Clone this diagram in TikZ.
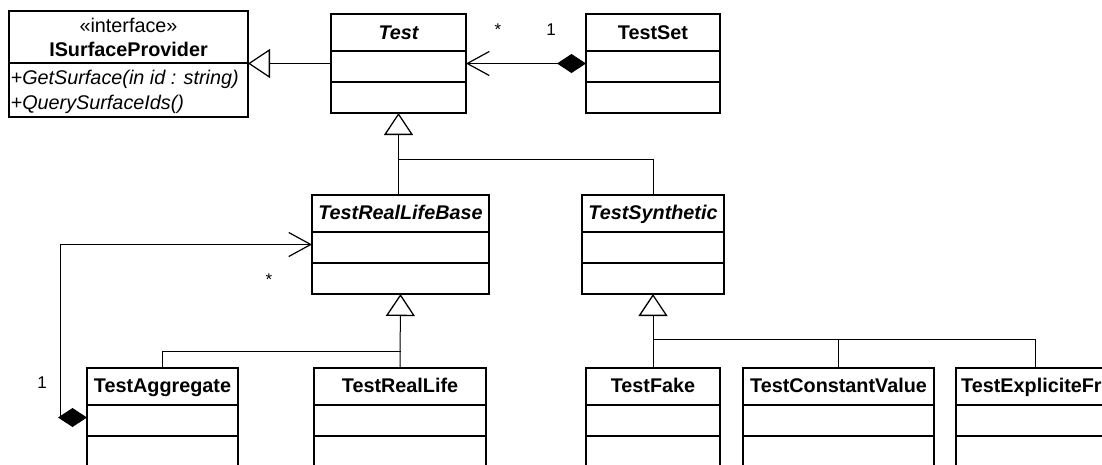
\documentclass[tikz,border=0pt]{standalone}
\usepackage{fontspec}
\setmainfont{Liberation Sans}
\usetikzlibrary{arrows.meta,calc}
\tikzset{
  clsbox/.style={draw, line width=1.6pt, minimum height=99pt, inner sep=0pt, outer sep=0pt},
  sepline/.style={line width=1.6pt},
  conn/.style={line width=1pt},
  inh/.style={conn, -{Triangle[open, length=22pt, width=29pt, line width=1.3pt]}},
  assoc/.style={conn, -{Straight Barb[length=22pt, width=24pt, line width=1.2pt]}},
  ttl/.style={font=\fontsize{19.8}{23}\selectfont\bfseries},
  attl/.style={font=\fontsize{19.8}{23}\selectfont\bfseries\itshape},
  mth/.style={font=\fontsize{19.8}{23}\selectfont\itshape, inner sep=0pt},
  reg/.style={font=\fontsize{19.8}{23}\selectfont, inner sep=0pt},
  mult/.style={font=\fontsize{17}{20}\selectfont, inner sep=0pt, anchor=base},
}
\newcommand\umlclass[5]{%
  \node[clsbox, minimum width={(#3-#2)*1pt}, anchor=north west] (#1) at (#2,#4) {};
  \draw[sepline] ($(#1.north west)+(0,37)$) -- ($(#1.north east)+(0,37)$);
  \draw[sepline] ($(#1.north west)+(0,68)$) -- ($(#1.north east)+(0,68)$);
  #5
}
\begin{document}
\begin{tikzpicture}[x=1pt,y=-1pt]
\path[use as bounding box] (0,0) rectangle (1102,464);
\clip (0,0) rectangle (1102,464);
\fill[white] (0,0) rectangle (1102,464);

% interface
\node[clsbox, minimum width=239pt, minimum height=106pt, anchor=north west] (isp) at (9,11) {};
\draw[sepline] ($(isp.north west)+(0,52)$) -- ($(isp.north east)+(0,52)$);
\node[reg, anchor=base] (isp-st) at ($(isp.north)+(0,21.3)$) {«interface»};
\node[ttl, inner sep=0pt, anchor=base] (isp-t) at ($(isp.north)+(0,45.7)$) {ISurfaceProvider};
\node[mth, anchor=base west] (isp-m1) at ($(isp.north west)+(1.5,73.3)$) {+GetSurface(in id : string)};
\node[mth, anchor=base west] (isp-m2) at ($(isp.north west)+(1.5,98.3)$) {+QuerySurfaceIds()};

% classes
\umlclass{test}{331}{466}{14}{\node[attl, anchor=base] (test-t) at ($(test.north)+(0,25.3)$) {Test};}
\umlclass{testset}{586}{720}{14}{\node[ttl, anchor=base] (testset-t) at ($(testset.north)+(0,25.3)$) {TestSet};}
\umlclass{trlb}{312}{489}{195}{\node[attl, anchor=base] (trlb-t) at ($(trlb.north)+(0,24.3)$) {TestRealLifeBase};}
\umlclass{tsyn}{582}{724}{195}{\node[attl, anchor=base] (tsyn-t) at ($(tsyn.north)+(0,24.3)$) {TestSynthetic};}
\umlclass{ta}{87}{238}{368}{\node[ttl, anchor=base] (ta-t) at ($(ta.north)+(0,24)$) {TestAggregate};}
\umlclass{trl}{314}{486}{368}{\node[ttl, anchor=base] (trl-t) at ($(trl.north)+(0,24)$) {TestRealLife};}
\umlclass{tf}{586}{720}{368}{\node[ttl, anchor=base] (tf-t) at ($(tf.north)+(0,24)$) {TestFake};}
\umlclass{tcv}{743}{934}{368}{\node[ttl, anchor=base] (tcv-t) at ($(tcv.north)+(0,24)$) {TestConstantValue};}
\umlclass{tef}{956}{1114}{368}{\node[ttl, inner sep=0pt, anchor=base west] (tef-t) at ($(tef.north west)+(5,24)$) {TestExpliciteFr};}

% realization Test -> ISurfaceProvider
\draw[inh] (test.west) -- (test.west -| isp.east);

% composition TestSet -> Test
\draw[conn, {Diamond[length=29pt, width=19pt]}-{Straight Barb[length=22pt, width=24pt, line width=1.2pt]}] (testset.west) -- (test.east);
\node[mult] (m1) at (498,35) {*};
\node[mult] (m2) at (551,35) {1};

% generalization tree under Test
\coordinate (y1) at (0,159);
\coordinate (j1) at (test.south |- y1);
\draw[inh] (j1 |- trlb.north) -- (test.south);
\draw[conn] (tsyn.north) |- (j1);

% generalization tree under TestRealLifeBase
\coordinate (y2) at (0,351);
\coordinate (j2) at (trlb.south |- y2);
\draw[inh] (trl.north) -- (trlb.south);
\draw[conn] (ta.north) |- (j2);

% generalization tree under TestSynthetic
\coordinate (y3) at (0,339);
\coordinate (j3) at (tsyn.south |- y3);
\draw[inh] (tf.north) -- (tsyn.south);
\draw[conn] (tcv.north) |- (j3);
\draw[conn] (tef.north) |- (j3);

% aggregation TestAggregate -> TestRealLifeBase
\draw[assoc] ([xshift=-26.5pt]ta.west) |- (trlb.west);
\fill (ta.west) -- ++(-14.5,-9.5) -- ++(-14.5,9.5) -- ++(14.5,9.5) -- cycle;
\node[mult] (m3) at (269,285) {*};
\node[mult] (m4) at (42,388) {1};
\end{tikzpicture}
\end{document}
